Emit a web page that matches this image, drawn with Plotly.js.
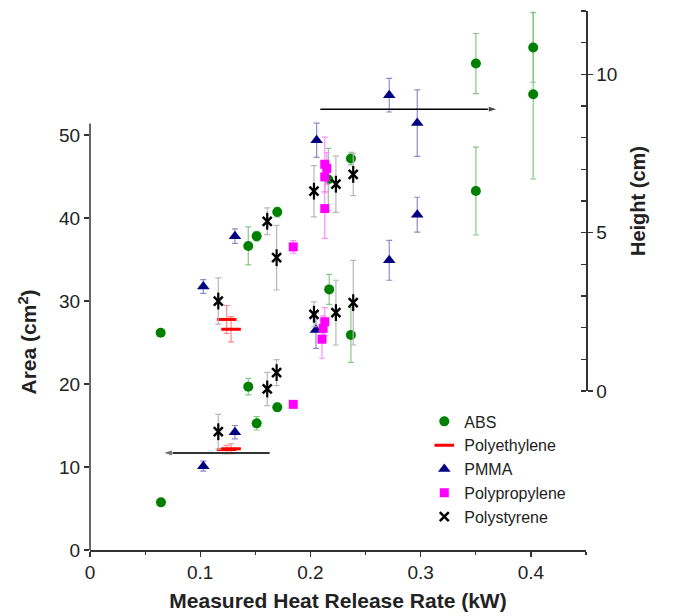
<!DOCTYPE html>
<html>
<head>
<meta charset="utf-8">
<script src="https://cdn.plot.ly/plotly-3.0.1.min.js"></script>
<style>html,body{margin:0;padding:0;background:#fff;}#chart{width:674px;height:616px;}</style>
</head>
<body>
<div id="chart"></div>
<script>
// ---- data (x = measured HRR in kW) ----
// Area (cm^2), left axis
const absAreaX  = [0.0644, 0.1436, 0.1512, 0.1699, 0.2170, 0.2367, 0.3501, 0.4021];
const absAreaY  = [5.74, 19.68, 15.26, 17.19, 31.4, 25.9, 43.25, 54.9];
const absAreaE  = [0.35, 1.0, 0.8, 0.5, 1.8, 3.3, 5.3, 10.2];
const peAreaX   = [0.1240, 0.1280];
const peAreaY   = [12.1, 12.2];
const peAreaE   = [0.5, 0.6];
const pmmaAreaX = [0.1028, 0.1315, 0.2050, 0.2715, 0.2969];
const pmmaAreaY = [10.1, 14.2, 26.5, 34.9, 40.4];
const pmmaAreaE = [0.6, 0.8, 2.2, 2.4, 2.1];
const ppAreaX   = [0.1844, 0.2130, 0.2115, 0.2105];
const ppAreaY   = [17.55, 27.5, 26.7, 25.4];
const ppAreaE   = [0.3, 1.7, 1.5, 2.3];
const psAreaX   = [0.1164, 0.1608, 0.1693, 0.2032, 0.2231, 0.2388];
const psAreaY   = [14.25, 19.4, 21.37, 28.4, 28.6, 29.8];
const psAreaE   = [2.1, 2.0, 1.56, 1.5, 3.9, 5.1];
// Height (cm), right axis
const absHX  = [0.0641, 0.1436, 0.1512, 0.1699, 0.2162, 0.2367, 0.3501, 0.4021];
const absHY  = [1.84, 4.58, 4.89, 5.65, 6.68, 7.34, 10.34, 10.85];
const absHE  = [0.1, 0.6, 0.15, 0.15, 0.98, 0.2, 0.95, 1.1];
const peHX   = [0.1240, 0.1280];
const peHY   = [2.26, 1.95];
const peHE   = [0.44, 0.4];
const pmmaHX = [0.1028, 0.1315, 0.2056, 0.2715, 0.2969];
const pmmaHY = [3.3, 4.89, 7.92, 9.34, 8.46];
const pmmaHE = [0.22, 0.23, 0.54, 0.53, 1.05];
const ppHX   = [0.1844, 0.2130, 0.2148, 0.2130, 0.2130];
const ppHY   = [4.55, 7.16, 7.03, 6.76, 5.76];
const ppHE   = [0.2, 0.86, 0.5, 0.5, 0.94];
const psHX   = [0.1164, 0.1608, 0.1693, 0.2032, 0.2231, 0.2388];
const psHY   = [2.84, 5.36, 4.21, 6.31, 6.53, 6.84];
const psHE   = [0.73, 0.42, 1.02, 0.81, 0.89, 0.67];
// arrows: x = [tail, head], y level
const arrowAreaX   = [0.163, 0.066];
const arrowAreaY   = [11.7, 11.7];
const arrowHeightX = [0.209, 0.370];
const arrowHeightY = [8.9, 8.9];
const xTickVals = [0, 0.1, 0.2, 0.3, 0.4];
const xTickText = ['0', '0.1', '0.2', '0.3', '0.4'];
const areaTicks = [0, 10, 20, 30, 40, 50];
const heightTicks = [0, 5, 10];

const FONT = 'Liberation Sans, Arial, sans-serif';

function series(name, x, y, e, yaxis, marker, ecolor, showlegend) {
  return {
    type: 'scatter', mode: 'markers', name: name, legendgroup: name,
    showlegend: showlegend, x: x, y: y, yaxis: yaxis,
    marker: marker,
    error_y: {type: 'data', array: e, visible: true, color: ecolor, thickness: 1.2, width: 3}
  };
}
const mABS  = {symbol: 'circle', size: 10, color: '#008000'};
const mPE   = {symbol: 'line-ew-open', size: 14, color: '#ff0000', line: {color: '#ff0000', width: 3}};
const mPMMA = {symbol: 'triangle-up', size: 11, color: '#000080'};
const mPP   = {symbol: 'square', size: 9, color: '#ff00ff'};
const mPS   = {symbol: 'x-thin-open', size: 9, color: '#000000', line: {color: '#000000', width: 2.5}};
const mPS2  = {symbol: 'line-ns-open', size: 12, color: '#000000', line: {color: '#000000', width: 2.2}};

const cABS = '#86c986', cPE = '#ff8a8a', cPMMA = '#8c8cc8', cPP = '#ff8cff', cPS = '#b8b8b8';

function arrow(x, y, yaxis, color, width) {
  return {type: 'scatter', mode: 'lines+markers', x: x, y: y, yaxis: yaxis, showlegend: false,
          hoverinfo: 'skip', line: {color: color, width: width},
          marker: {symbol: 'arrow', angleref: 'previous', size: [0, 10], color: color}};
}

const data = [
  series('ABS', absAreaX, absAreaY, absAreaE, 'y', mABS, cABS, true),
  series('ABS', absHX, absHY, absHE, 'y2', mABS, cABS, false),
  series('Polyethylene', peAreaX, peAreaY, peAreaE, 'y', mPE, cPE, true),
  series('Polyethylene', peHX, peHY, peHE, 'y2', mPE, cPE, false),
  series('PMMA', pmmaAreaX, pmmaAreaY, pmmaAreaE, 'y', mPMMA, cPMMA, true),
  series('PMMA', pmmaHX, pmmaHY, pmmaHE, 'y2', mPMMA, cPMMA, false),
  series('Polypropylene', ppAreaX, ppAreaY, ppAreaE, 'y', mPP, cPP, true),
  series('Polypropylene', ppHX, ppHY, ppHE, 'y2', mPP, cPP, false),
  series('Polystyrene', psAreaX, psAreaY, psAreaE, 'y', mPS, cPS, true),
  series('Polystyrene', psHX, psHY, psHE, 'y2', mPS, cPS, false),
  {type: 'scatter', mode: 'markers', name: 'Polystyrene', legendgroup: 'Polystyrene', showlegend: false,
   x: psAreaX, y: psAreaY, yaxis: 'y', marker: mPS2, hoverinfo: 'skip'},
  {type: 'scatter', mode: 'markers', name: 'Polystyrene', legendgroup: 'Polystyrene', showlegend: false,
   x: psHX, y: psHY, yaxis: 'y2', marker: mPS2, hoverinfo: 'skip'},
  arrow(arrowAreaX, arrowAreaY, 'y', '#333333', 2),
  arrow(arrowHeightX, arrowHeightY, 'y2', '#000000', 1.5)
];

const AX = '#333333';
const layout = {
  width: 674, height: 616,
  margin: {l: 90, r: 88, t: 11, b: 66},
  paper_bgcolor: '#ffffff', plot_bgcolor: 'rgba(0,0,0,0)',
  font: {family: FONT, size: 19, color: '#222222'},
  showlegend: true,
  legend: {x: 0.674, y: 0.27, xanchor: 'left', yanchor: 'top', bgcolor: 'rgba(0,0,0,0)',
           font: {family: FONT, size: 16, color: '#222222'}, tracegroupgap: 0},
  xaxis: {
    range: [0, 0.45], showgrid: false, zeroline: false,
    showline: true, linecolor: AX, linewidth: 1.5,
    ticks: 'outside', ticklen: 5, tickwidth: 1.3, tickcolor: AX,
    tickvals: xTickVals, ticktext: xTickText,
    minor: {dtick: 0.05, tick0: 0, ticks: 'outside', ticklen: 3, tickwidth: 1.2, tickcolor: AX, showgrid: false},
    tickfont: {family: FONT, size: 19, color: '#222222'},
    title: {text: '<b>Measured Heat Release Rate (kW)</b>', font: {family: FONT, size: 21, color: '#222222'}, standoff: 11}
  },
  yaxis: {
    domain: [0, 1], range: [0, 64.94], showgrid: false, zeroline: false, showline: false,
    ticks: 'outside', ticklen: 5, tickwidth: 1.3, tickcolor: AX,
    tickvals: areaTicks, ticktext: areaTicks.map(String),
    tickfont: {family: FONT, size: 19, color: '#222222'}
  },
  yaxis2: {
    domain: [0.295, 1], range: [0, 12], anchor: 'x', side: 'right',
    showgrid: false, zeroline: false, showline: true, linecolor: AX, linewidth: 1.5,
    ticks: 'outside', ticklen: 5, tickwidth: 1.3, tickcolor: AX,
    tickvals: heightTicks, ticktext: heightTicks.map(String),
    minor: {dtick: 1, tick0: 0, ticks: 'inside', ticklen: 5, tickwidth: 1.2, tickcolor: AX, showgrid: false},
    tickfont: {family: FONT, size: 19, color: '#222222'},
    title: {text: '<b>Height (cm)</b>', font: {family: FONT, size: 20, color: '#222222'}, standoff: 14}
  },
  shapes: [
    {type: 'line', xref: 'paper', x0: 0, x1: 0, yref: 'y', y0: 0, y1: 51.4,
     line: {color: AX, width: 1.5}}
  ],
  annotations: [
    {xref: 'paper', yref: 'paper', x: -0.125, y: 0.385, text: '<b>Area (cm<sup>2</sup>)</b>',
     textangle: -90, showarrow: false, xanchor: 'center', yanchor: 'middle',
     font: {family: FONT, size: 21, color: '#222222'}}
  ]
};

Plotly.newPlot('chart', data, layout, {displayModeBar: false, staticPlot: true});
</script>
</body>
</html>
